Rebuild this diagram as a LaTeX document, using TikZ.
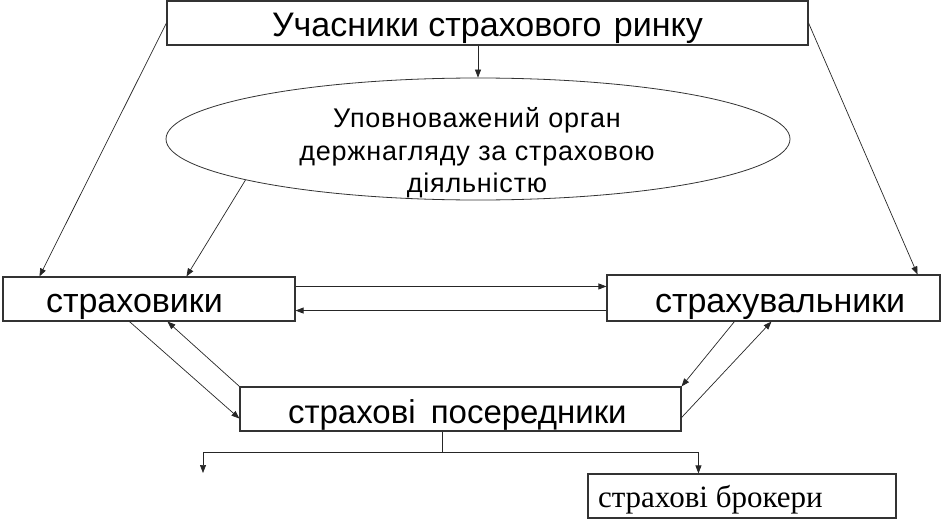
\documentclass[tikz,border=0pt]{standalone}
\usepackage{fontspec}
\setmainfont{Liberation Sans}
\newfontfamily\brokfont{Liberation Serif}
\newfontfamily\ovalfont[LetterSpace=3]{Liberation Sans}
\usetikzlibrary{shapes.geometric,arrows.meta,calc}
\tikzset{
  box/.style={draw=black!80, line width=1.1pt, rectangle, inner sep=0pt, anchor=center},
  conn/.style={draw=black!85, line width=0.7pt},
  arr/.style={conn, -{Triangle[length=8pt,width=6pt]}},
}
\begin{document}
\begin{tikzpicture}[x=1pt,y=-1pt]
\useasboundingbox (0,0) rectangle (944,519);
% boxes
\node[box, minimum width=641pt, text height=36pt, text depth=8pt,
      font=\fontsize{34}{38}\selectfont] (top) at (487.5,23)
      {Учасники страхового\hspace{3pt} ринку};
\node[ellipse, draw=black!80, line width=0.8pt, inner sep=0pt,
      minimum width=624pt, minimum height=122pt] (org) at (478,139) {};
\node[align=center, inner sep=0pt, font=\fontsize{27}{32.5}\ovalfont]
      (orgtext) at (477,153) {Уповноважений орган\\держнагляду за страховою\\діяльністю};
\node[box, text height=35pt, text depth=9pt, font=\fontsize{34}{40}\selectfont]
      (ins) at (149,299) {\makebox[292pt][l]{\hspace{43pt}страховики}};
\node[box, text height=37pt, text depth=9pt, font=\fontsize{34}{40}\selectfont]
      (pol) at (773.5,298) {\makebox[333pt][l]{\hspace{48pt}страхувальники}};
\node[box, text height=36pt, text depth=8pt, font=\fontsize{33}{40}\selectfont]
      (pos) at (460.5,409) {\makebox[441pt][l]{\hspace{48pt}страхові\hspace{6pt} посередники}};
\node[box, text height=33pt, text depth=11pt, font=\fontsize{31}{36}\brokfont]
      (brok) at (742,496) {\makebox[308pt][l]{\hspace{10pt}страхові брокери}};
% connectors
\draw[arr] (org.north |- top.south) -- (org.north);
\draw[arr] (top.west) -- ([xshift=37pt]ins.north west);
\draw[arr] (top.east) -- ([xshift=-23pt]pol.north east);
\draw[arr] (org.190.6) -- ([xshift=184pt]ins.north west);
\draw[arr] ([yshift=-10pt]ins.north east) -- ([yshift=-10pt]ins.north east -| pol.west);
\draw[arr] ([yshift=11pt]pol.south west) -- ([yshift=11pt]pol.south west -| ins.east);
\draw[arr] ([xshift=127pt]ins.south west) -- ([yshift=13pt]pos.south west);
\draw[arr] (pos.north west) -- ([xshift=165pt]ins.south west);
\draw[arr] ([xshift=128pt]pol.south west) -- (pos.north east);
\draw[arr] ([yshift=14pt]pos.south east) -- ([xshift=165pt]pol.south west);
\draw[conn] ([xshift=203pt]pos.south west) -- ++(0,-21pt) coordinate (fork);
\coordinate (leftend) at (203,473);
\draw[arr] (fork) -| (leftend);
\draw[arr] (fork) -| ([xshift=111pt]brok.north west);
\end{tikzpicture}
\end{document}
